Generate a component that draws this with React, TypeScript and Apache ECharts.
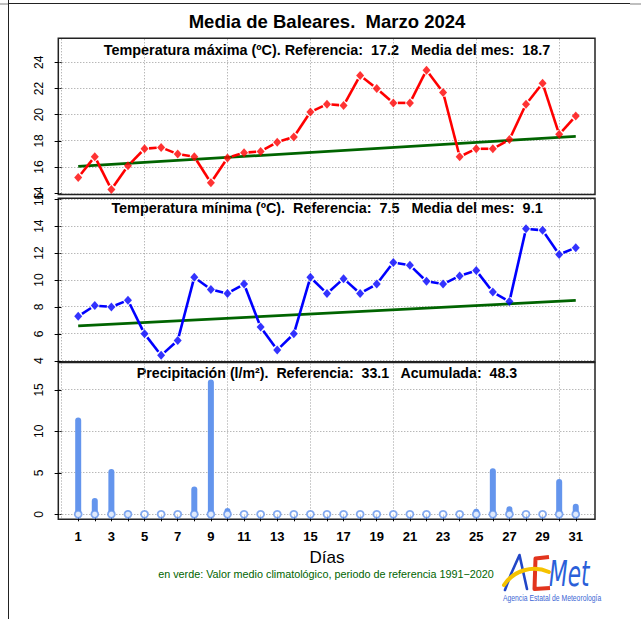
import React, { useEffect, useRef } from 'react';
import * as echarts from 'echarts';

// ---- data ----
const days = [1, 2, 3, 4, 5, 6, 7, 8, 9, 10, 11, 12, 13, 14, 15, 16, 17, 18, 19, 20, 21, 22, 23, 24, 25, 26, 27, 28, 29, 30, 31];
const xLabelDays = [1, 3, 5, 7, 9, 11, 13, 15, 17, 19, 21, 23, 25, 27, 29, 31];
const xGridDays = [0, 5, 10, 15, 20, 25, 30];

const tmax = [15.2, 16.8, 14.3, 16.1, 17.4, 17.5, 17.0, 16.8, 14.8, 16.7, 17.1, 17.2, 17.9, 18.3, 20.2, 20.8, 20.7, 23.0, 22.0, 20.9, 20.9, 23.4, 21.7, 16.8, 17.4, 17.4, 18.1, 20.8, 22.4, 18.5, 19.9];
const tmaxRefDays = [1, 31];
const tmaxRef = [16.05, 18.35];
const tmaxTicks = [14, 16, 18, 20, 22, 24];

const tmin = [7.3, 8.1, 8.0, 8.5, 6.0, 4.4, 5.5, 10.2, 9.3, 9.0, 9.7, 6.5, 4.8, 6.0, 10.2, 9.0, 10.1, 9.0, 9.7, 11.3, 11.1, 9.9, 9.7, 10.3, 10.7, 9.1, 8.4, 13.8, 13.7, 11.9, 12.4];
const tminRefDays = [1, 31];
const tminRef = [6.59, 8.48];
const tminTicks = [4, 6, 8, 10, 12, 14, 16];

const precip = [11.3, 1.6, 5.1, 0.1, 0, 0, 0, 3.0, 15.9, 0.4, 0, 0, 0, 0, 0, 0, 0, 0, 0, 0, 0, 0, 0, 0, 0.3, 5.2, 0.6, 0, 0, 3.9, 0.9];
const precipTicks = [0, 5, 10, 15];

const titleText = 'Media de Baleares.  Marzo 2024';
const sub1 = 'Temperatura máxima (ºC). Referencia:  17.2   Media del mes:  18.7';
const sub2 = 'Temperatura mínima (ºC).  Referencia:  7.5   Media del mes:  9.1';
const sub3 = 'Precipitación (l/m²).  Referencia:  33.1   Acumulada:  48.3';
const xTitle = 'Días';
const noteText = 'en verde: Valor medio climatológico, periodo de referencia 1991−2020';

const FONT = 'Liberation Sans, Arial, Helvetica, sans-serif';
const GRIDCOL = '#9a9a9a';
const GREEN = '#006400';
const PBLUE = '#6495ED';

const PL = 58.3;
const PW = 536.7;
const grids = [
  { top: 38.3, height: 156.2 },
  { top: 198.3, height: 163.4 },
  { top: 362.5, height: 156.8 },
];
const yRanges = [
  [13.91, 25.83],
  [3.93, 16.07],
  [-0.6, 18.3],
];
const X_MIN = -0.2;
const X_MAX = 32.16;

const snap = (v: number) => Math.round(v - 0.5) + 0.5;

function gridSeries(ticks: number[], idx: number) {
  // kind 0 = vertical line at x value, kind 1 = horizontal line at y value
  const data = [...xGridDays.map((v) => [0, v]), ...ticks.map((v) => [1, v])];
  return {
    type: 'custom',
    xAxisIndex: idx,
    yAxisIndex: idx,
    z: 1,
    silent: true,
    clip: false,
    data,
    renderItem: (params: any, api: any) => {
      const cs = params.coordSys;
      const kind = api.value(0);
      const v = api.value(1);
      let shape;
      if (kind === 0) {
        const p = api.coord([v, yRanges[idx][0]]);
        const x = snap(p[0]);
        shape = { x1: x, y1: cs.y + 1, x2: x, y2: cs.y + cs.height - 1 };
      } else {
        const p = api.coord([X_MIN, v]);
        const y = snap(p[1]);
        shape = { x1: cs.x + 1, y1: y, x2: cs.x + cs.width - 1, y2: y };
      }
      return {
        type: 'line',
        shape,
        style: { stroke: GRIDCOL, lineWidth: 1, lineDash: [1, 2] },
      };
    },
  };
}

function gapLineSeries(vals: number[], idx: number, color: string) {
  return {
    type: 'custom',
    xAxisIndex: idx,
    yAxisIndex: idx,
    z: 4,
    silent: true,
    encode: { x: [0, 2], y: [1, 3] },
    data: vals.slice(0, -1).map((v, i) => [days[i], v, days[i + 1], vals[i + 1]]),
    renderItem: (params: any, api: any) => {
      const a = api.coord([api.value(0), api.value(1)]);
      const b = api.coord([api.value(2), api.value(3)]);
      const dx = b[0] - a[0];
      const dy = b[1] - a[1];
      const L = Math.hypot(dx, dy);
      const g = 4.5;
      if (L <= 2 * g) return { type: 'group', children: [] };
      const ux = dx / L;
      const uy = dy / L;
      return {
        type: 'line',
        shape: { x1: a[0] + ux * g, y1: a[1] + uy * g, x2: b[0] - ux * g, y2: b[1] - uy * g },
        style: { stroke: color, lineWidth: 2.6 },
      };
    },
  };
}

function text(x: number, y: number, t: string, size: number, opts: any = {}) {
  return {
    type: 'text',
    x,
    y,
    scaleX: opts.scaleX ?? 1,
    scaleY: opts.scaleY ?? 1,
    silent: true,
    style: {
      text: t,
      x: 0,
      y: 0,
      fontSize: size,
      fontFamily: opts.family ?? FONT,
      fontWeight: opts.weight ?? 'normal',
      fontStyle: opts.style ?? 'normal',
      fill: opts.color ?? '#000',
      align: opts.align ?? 'center',
      textAlign: opts.align ?? 'center',
      verticalAlign: opts.valign ?? 'middle',
      textVerticalAlign: opts.valign ?? 'middle',
    },
  };
}

export default function App() {
  const ref = useRef<HTMLDivElement>(null);
  useEffect(() => {
    if (!ref.current) return;
    const chart = echarts.init(ref.current, undefined, { renderer: 'svg' });
    const ticksList = [tmaxTicks, tminTicks, precipTicks];

    const option: any = {
      animation: false,
      backgroundColor: '#fff',
      grid: grids.map((g) => ({
        left: PL,
        top: g.top,
        width: PW,
        height: g.height,
        show: true,
        borderColor: '#222',
        borderWidth: 1.5,
        backgroundColor: 'transparent',
        containLabel: false,
      })),
      xAxis: [0, 1, 2].map((i) => ({
        type: 'value',
        gridIndex: i,
        min: X_MIN,
        max: X_MAX,
        axisLine: { show: false },
        splitLine: { show: false },
        axisTick:
          i === 2
            ? { show: true, customValues: days, length: 7, lineStyle: { color: '#000', width: 1 } }
            : { show: false },
        axisLabel:
          i === 2
            ? {
                show: true,
                customValues: xLabelDays,
                fontSize: 13,
                fontWeight: 'bold',
                fontFamily: FONT,
                color: '#000',
                margin: 11,
              }
            : { show: false },
      })),
      yAxis: [0, 1, 2].map((i) => ({
        type: 'value',
        gridIndex: i,
        min: yRanges[i][0],
        max: yRanges[i][1],
        axisLine: { show: false },
        splitLine: { show: false },
        axisTick: { show: true, customValues: ticksList[i], length: 7, lineStyle: { color: '#000', width: 1 } },
        axisLabel: {
          show: true,
          customValues: ticksList[i],
          rotate: 90,
          fontSize: 12,
          fontFamily: FONT,
          color: '#000',
          margin: 13,
          showMinLabel: true,
          showMaxLabel: true,
        },
      })),
      series: [
        gridSeries(tmaxTicks, 0),
        gridSeries(tminTicks, 1),
        gridSeries(precipTicks, 2),
        // top panel
        {
          type: 'line',
          xAxisIndex: 0,
          yAxisIndex: 0,
          z: 2,
          showSymbol: false,
          silent: true,
          data: tmaxRefDays.map((d, i) => [d, tmaxRef[i]]),
          lineStyle: { color: GREEN, width: 2.8 },
        },
        gapLineSeries(tmax, 0, '#ff0000'),
        {
          type: 'scatter',
          xAxisIndex: 0,
          yAxisIndex: 0,
          z: 5,
          symbol: 'diamond',
          symbolSize: [8, 9],
          itemStyle: { color: '#ff0000' },
          data: days.map((d, i) => [d, tmax[i]]),
        },
        // middle panel
        {
          type: 'line',
          xAxisIndex: 1,
          yAxisIndex: 1,
          z: 2,
          showSymbol: false,
          silent: true,
          data: tminRefDays.map((d, i) => [d, tminRef[i]]),
          lineStyle: { color: GREEN, width: 2.8 },
        },
        gapLineSeries(tmin, 1, '#0000ff'),
        {
          type: 'scatter',
          xAxisIndex: 1,
          yAxisIndex: 1,
          z: 5,
          symbol: 'diamond',
          symbolSize: [8, 9],
          itemStyle: { color: '#0000ff' },
          data: days.map((d, i) => [d, tmin[i]]),
        },
        // bottom panel: vertical "h"-type bars with round caps
        {
          type: 'custom',
          xAxisIndex: 2,
          yAxisIndex: 2,
          z: 3,
          silent: true,
          data: days.map((d, i) => [d, precip[i]]),
          renderItem: (params: any, api: any) => {
            const top = api.coord([api.value(0), api.value(1)]);
            const base = api.coord([api.value(0), 0]);
            return {
              type: 'line',
              shape: { x1: top[0], y1: base[1], x2: top[0], y2: top[1] },
              style: { stroke: PBLUE, lineWidth: 6, lineCap: 'round' },
            };
          },
        },
        {
          type: 'scatter',
          xAxisIndex: 2,
          yAxisIndex: 2,
          z: 5,
          symbol: 'circle',
          symbolSize: 7,
          itemStyle: { color: '#fff', borderColor: PBLUE, borderWidth: 1.8 },
          data: days.map((d) => [d, 0]),
        },
      ],
      graphic: [
        // outer frame
        { type: 'line', silent: true, shape: { x1: 8.5, y1: 0, x2: 8.5, y2: 619 }, style: { stroke: '#222', lineWidth: 1 } },
        { type: 'line', silent: true, shape: { x1: 8.5, y1: 3.5, x2: 630, y2: 3.5 }, style: { stroke: '#222', lineWidth: 1 } },
        { type: 'line', silent: true, shape: { x1: 0, y1: 4, x2: 8, y2: 4 }, style: { stroke: '#aaa', lineWidth: 1.5 } },
        { type: 'line', silent: true, shape: { x1: 630, y1: 4, x2: 641, y2: 4 }, style: { stroke: '#aaa', lineWidth: 1.5 } },
        // titles
        text(327, 21.7, titleText, 18.5, { weight: 'bold' }),
        text(327, 50, sub1, 14.4, { weight: 'bold' }),
        text(327, 208.3, sub2, 14.4, { weight: 'bold' }),
        text(327, 373.3, sub3, 14.2, { weight: 'bold' }),
        text(327, 557.5, xTitle, 17),
        text(326, 573.5, noteText, 10.8, { color: GREEN }),
        // logo
        {
          type: 'polyline',
          silent: true,
          shape: { points: [[505, 590], [511, 574], [519.5, 555], [523, 571], [527, 589]] },
          style: { stroke: '#2146c7', lineWidth: 2.6, fill: 'none', lineJoin: 'round', lineCap: 'round' },
        },
        {
          type: 'polyline',
          silent: true,
          shape: { points: [[549, 557], [535.5, 558.5], [534.5, 589], [550, 588]] },
          style: { stroke: '#e2341d', lineWidth: 4, fill: 'none', lineJoin: 'round' },
        },
        {
          type: 'bezierCurve',
          silent: true,
          shape: { x1: 504, y1: 585, cpx1: 514, cpy1: 570, cpx2: 533, cpy2: 565, x2: 549, y2: 572 },
          style: { stroke: '#f5c200', lineWidth: 4, fill: 'none', lineCap: 'round' },
        },
        text(549, 591, 'Met', 27, {
          family: 'DejaVu Sans, sans-serif',
          style: 'italic',
          color: '#2b5fd9',
          align: 'left',
          valign: 'bottom',
          scaleX: 0.8,
          scaleY: 1.3,
        }),
        text(503, 598, 'Agencia Estatal de Meteorología', 8.5, {
          color: '#3c66d4',
          align: 'left',
          scaleX: 0.8,
        }),
      ],
    };
    chart.setOption(option);
    return () => chart.dispose();
  }, []);
  return (
    <div
      ref={ref}
      style={{ position: 'fixed', left: 0, top: 0, width: 641, height: 619, background: '#fff' }}
    />
  );
}
